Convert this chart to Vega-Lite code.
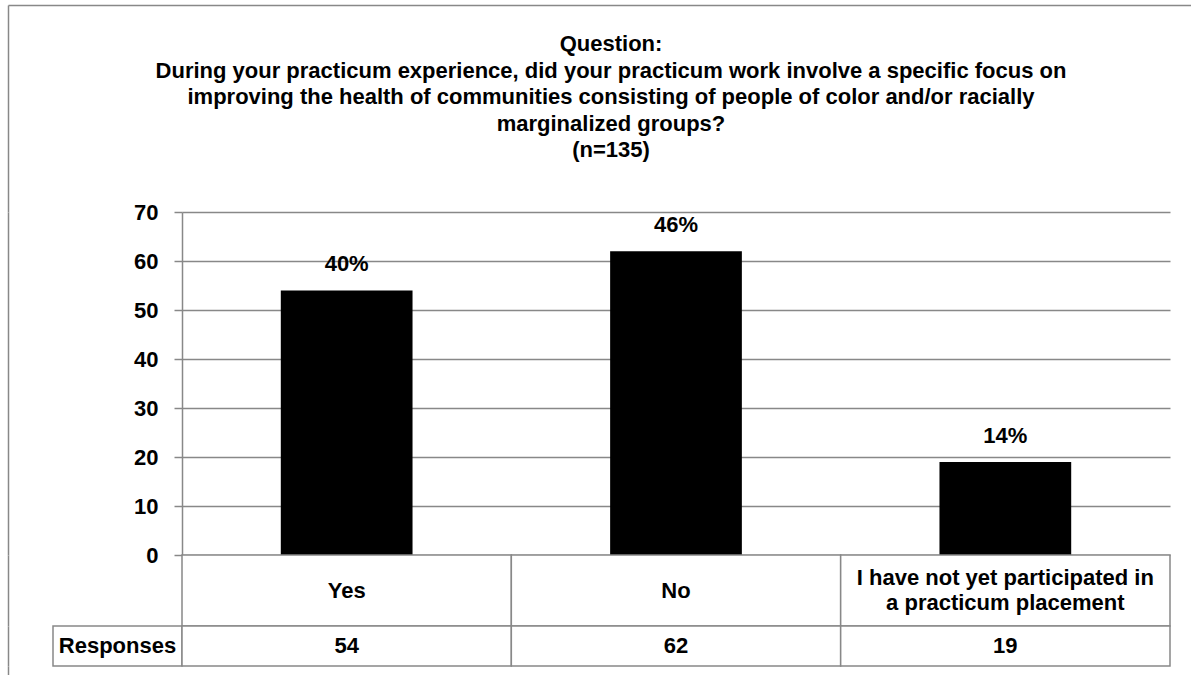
{
  "$schema": "https://vega.github.io/schema/vega-lite/v6.json",
  "background": "white",
  "padding": {"left": 8, "top": 5, "right": 0, "bottom": 0},
  "config": {
    "font": "Liberation Sans",
    "view": {"stroke": null},
    "text": {"color": "black"}
  },
  "datasets": {
    "survey": [
      {"answer": "Yes", "responses": 54, "share": "40%"},
      {"answer": "No", "responses": 62, "share": "46%"},
      {"answer": "I have not yet participated in\na practicum placement", "responses": 19, "share": "14%"}
    ],
    "heading": [{"title": "Question:\nDuring your practicum experience, did your practicum work involve a specific focus on\nimproving the health of communities consisting of people of color and/or racially\nmarginalized groups?\n(n=135)"}],
    "rowhead": [{"label": "Responses"}],
    "one": [{}],
    "empty": []
  },
  "spacing": 0,
  "bounds": "flush",
  "vconcat": [
    {
      "width": 1183, "height": 207,
      "data": {"name": "heading"},
      "layer": [
        {
          "mark": {"type": "text", "fontSize": 22, "fontWeight": "bold", "baseline": "middle", "align": "center", "lineBreak": "\n", "lineHeight": 26.5, "dx": 11.5, "dy": -64.5},
          "encoding": {"text": {"field": "title"}}
        },
        {
          "mark": {"type": "point", "opacity": 0, "size": 0},
          "encoding": {
            "x": {"datum": 0, "type": "quantitative", "axis": {"orient": "top", "domainColor": "#888888", "domainWidth": 1.5, "ticks": false, "labels": false, "grid": false, "title": null}},
            "y": {"datum": 0, "type": "quantitative", "axis": {"orient": "left", "domainColor": "#888888", "domainWidth": 1.5, "ticks": false, "labels": false, "grid": false, "title": null}}
          }
        }
      ]
    },
    {
      "columns": 3,
      "spacing": 0,
      "bounds": "flush",
      "align": "each",
      "concat": [
        {
          "width": 45, "height": 343,
          "data": {"name": "one"},
          "mark": {"type": "point", "opacity": 0, "size": 0},
          "encoding": {"y": {"datum": 0, "type": "quantitative", "axis": {"orient": "left", "domainColor": "#888888", "domainWidth": 1.5, "ticks": false, "labels": false, "grid": false, "title": null}}}
        },
        {
          "width": 129, "height": 343,
          "data": {"name": "empty"},
          "mark": "text",
          "encoding": {}
        },
        {
          "width": 988, "height": 343,
          "data": {"name": "survey"},
          "encoding": {
            "x": {"field": "answer", "type": "nominal", "sort": null, "scale": {"paddingInner": 0.6, "paddingOuter": 0.3}, "axis": null}
          },
          "layer": [
            {
              "mark": {"type": "bar", "color": "black"},
              "encoding": {
                "y": {"field": "responses", "type": "quantitative", "scale": {"domain": [0, 70]},
                  "axis": {"values": [0, 10, 20, 30, 40, 50, 60, 70], "title": null, "grid": true, "gridColor": "#888888", "gridWidth": 1.5,
                    "domainColor": "#888888", "domainWidth": 1.5, "tickColor": "#888888", "tickWidth": 1.5, "tickSize": 8,
                    "labelFontSize": 22, "labelFontWeight": "bold", "labelColor": "black", "labelPadding": 16, "labelFont": "Liberation Sans"}}
              }
            },
            {
              "mark": {"type": "text", "fontSize": 22, "fontWeight": "bold", "baseline": "middle", "dy": -26},
              "encoding": {
                "y": {"field": "responses", "type": "quantitative"},
                "text": {"field": "share"}
              }
            }
          ]
        },
        {
          "width": 45, "height": 71,
          "data": {"name": "one"},
          "mark": {"type": "point", "opacity": 0, "size": 0},
          "encoding": {"y": {"datum": 0, "type": "quantitative", "axis": {"orient": "left", "domainColor": "#888888", "domainWidth": 1.5, "ticks": false, "labels": false, "grid": false, "title": null}}}
        },
        {
          "width": 129, "height": 71,
          "data": {"name": "empty"},
          "mark": "text",
          "encoding": {}
        },
        {
          "width": 988, "height": 71,
          "data": {"name": "survey"},
          "encoding": {
            "x": {"field": "answer", "type": "nominal", "sort": null, "scale": {"paddingInner": 0, "paddingOuter": 0}, "axis": null}
          },
          "layer": [
            {"mark": {"type": "rect", "fill": "white", "stroke": "#888888", "strokeWidth": 1.5}},
            {
              "transform": [{"filter": "indexof(datum.answer, '\\n') < 0"}],
              "mark": {"type": "text", "fontSize": 22, "fontWeight": "bold", "baseline": "middle"},
              "encoding": {"text": {"field": "answer"}}
            },
            {
              "transform": [{"filter": "indexof(datum.answer, '\\n') >= 0"}],
              "mark": {"type": "text", "fontSize": 22, "fontWeight": "bold", "baseline": "middle", "lineBreak": "\n", "lineHeight": 25, "dy": -12.5},
              "encoding": {"text": {"field": "answer"}}
            }
          ]
        },
        {
          "width": 45, "height": 40,
          "data": {"name": "one"},
          "mark": {"type": "point", "opacity": 0, "size": 0},
          "encoding": {"y": {"datum": 0, "type": "quantitative", "axis": {"orient": "left", "domainColor": "#888888", "domainWidth": 1.5, "ticks": false, "labels": false, "grid": false, "title": null}}}
        },
        {
          "width": 129, "height": 40,
          "data": {"name": "rowhead"},
          "view": {"stroke": "#888888", "strokeWidth": 1.5},
          "mark": {"type": "text", "fontSize": 22, "fontWeight": "bold", "baseline": "middle"},
          "encoding": {"text": {"field": "label"}}
        },
        {
          "width": 988, "height": 40,
          "data": {"name": "survey"},
          "encoding": {
            "x": {"field": "answer", "type": "nominal", "sort": null, "scale": {"paddingInner": 0, "paddingOuter": 0}, "axis": null}
          },
          "layer": [
            {"mark": {"type": "rect", "fill": "white", "stroke": "#888888", "strokeWidth": 1.5}},
            {"mark": {"type": "text", "fontSize": 22, "fontWeight": "bold", "baseline": "middle"},
              "encoding": {"text": {"field": "responses"}}}
          ]
        },
        {
          "width": 45, "height": 9,
          "data": {"name": "one"},
          "mark": {"type": "point", "opacity": 0, "size": 0},
          "encoding": {"y": {"datum": 0, "type": "quantitative", "axis": {"orient": "left", "domainColor": "#888888", "domainWidth": 1.5, "ticks": false, "labels": false, "grid": false, "title": null}}}
        }
      ]
    }
  ]
}
